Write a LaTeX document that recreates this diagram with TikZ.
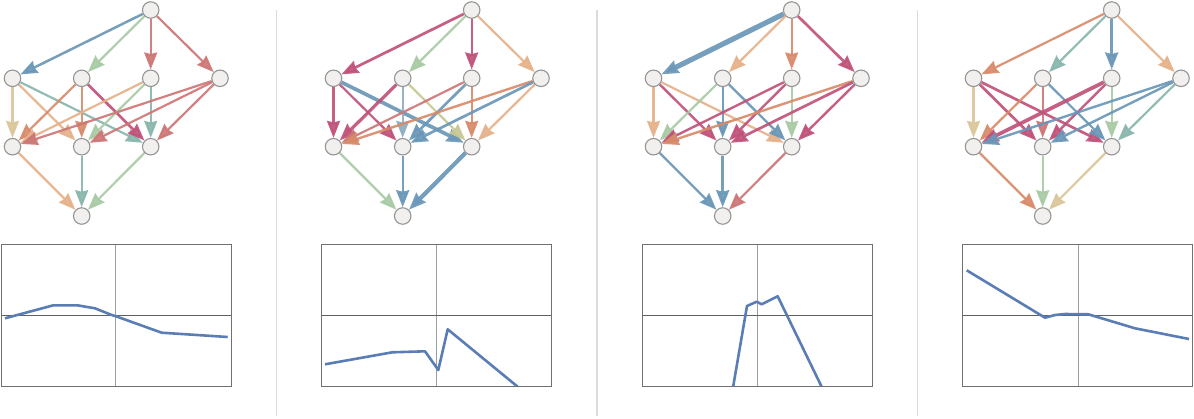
\documentclass[tikz,border=0pt]{standalone}
\usetikzlibrary{arrows.meta}
\definecolor{cBlue}{HTML}{6A97B8}
\definecolor{cGreen}{HTML}{A8CAA4}
\definecolor{cTeal}{HTML}{89B6AC}
\definecolor{cRed}{HTML}{CD7676}
\definecolor{cMag}{HTML}{C0527A}
\definecolor{cOrange}{HTML}{D88B6A}
\definecolor{cPeach}{HTML}{E5B18A}
\definecolor{cTan}{HTML}{DAC69A}
\definecolor{cYG}{HTML}{C7C894}
\definecolor{cLB}{HTML}{8FAEC0}
\definecolor{vgray}{HTML}{959595}
\definecolor{vfill}{HTML}{F2F0EE}
\definecolor{sepc}{HTML}{DADADF}
\definecolor{curvec}{HTML}{5B7DB5}
\definecolor{framec}{HTML}{707070}
\pgfdeclarelayer{bg}
\pgfsetlayers{bg,main}
\newcommand\ed[5]{\draw[edg,color=#4,line width=#5pt] (p#1#2) -- (p#1#3);}
\begin{document}
\begin{tikzpicture}[x=1pt,y=-1pt,
  vtx/.style={circle,draw=vgray,fill=vfill,line width=1.1pt,minimum size=16.5pt,inner sep=0pt},
  edg/.style={-{Stealth[length=17pt 0 0,width=13pt 0 0,inset=1.5pt 0]},opacity=0.92},
  sepline/.style={draw=sepc,line width=1.5pt},
  frm/.style={draw=framec,line width=0.9pt},
  vax/.style={draw=black!38,line width=1.2pt},
  hax/.style={draw=black!62,line width=0.9pt},
  crv/.style={draw=curvec,line width=2.6pt,line join=round}]
\useasboundingbox (0,0) rectangle (1194,418);
\foreach \p/\ox in {1/0,2/321,3/641,4/961}{
  \node[vtx] (p\p T) at (\ox+150.7,10) {};
  \node[vtx] (p\p A1) at (\ox+12.5,78.3) {};
  \node[vtx] (p\p A2) at (\ox+81.7,78.3) {};
  \node[vtx] (p\p A3) at (\ox+150.7,78.3) {};
  \node[vtx] (p\p A4) at (\ox+220,78.3) {};
  \node[vtx] (p\p B1) at (\ox+12.5,146.7) {};
  \node[vtx] (p\p B2) at (\ox+81.7,146.7) {};
  \node[vtx] (p\p B3) at (\ox+150.7,146.7) {};
  \node[vtx] (p\p Z) at (\ox+81.7,216) {};
}
\begin{pgfonlayer}{bg}
% panel 1
\ed1{T}{A1}{cBlue}{2.5}
\ed1{T}{A2}{cGreen}{2.2}
\ed1{T}{A3}{cRed}{2.2}
\ed1{T}{A4}{cRed}{2.2}
\ed1{A1}{B1}{cTan}{2.2}
\ed1{A1}{B2}{cPeach}{2.2}
\ed1{A1}{B3}{cTeal}{2.2}
\ed1{A2}{B1}{cOrange}{2.2}
\ed1{A2}{B2}{cOrange}{2.2}
\ed1{A2}{B3}{cMag}{2.7}
\ed1{A3}{B1}{cPeach}{2.2}
\ed1{A3}{B2}{cGreen}{2.2}
\ed1{A3}{B3}{cTeal}{2.2}
\ed1{A4}{B1}{cRed}{2.2}
\ed1{A4}{B2}{cRed}{2.2}
\ed1{A4}{B3}{cRed}{2.2}
\ed1{B1}{Z}{cPeach}{2.2}
\ed1{B2}{Z}{cTeal}{2.2}
\ed1{B3}{Z}{cGreen}{2.2}
% panel 2
\ed2{T}{A1}{cMag}{2.7}
\ed2{T}{A2}{cGreen}{2.2}
\ed2{T}{A3}{cMag}{2.4}
\ed2{T}{A4}{cPeach}{2.2}
\ed2{A1}{B1}{cMag}{2.4}
\ed2{A1}{B2}{cMag}{2.2}
\ed2{A1}{B3}{cBlue}{3.7}
\ed2{A2}{B1}{cMag}{3.2}
\ed2{A2}{B2}{cLB}{2.2}
\ed2{A2}{B3}{cYG}{2.2}
\ed2{A3}{B1}{cRed}{2.2}
\ed2{A3}{B2}{cBlue}{2.7}
\ed2{A3}{B3}{cOrange}{2.2}
\ed2{A4}{B1}{cOrange}{2.4}
\ed2{A4}{B2}{cBlue}{2.7}
\ed2{A4}{B3}{cPeach}{2.2}
\ed2{B1}{Z}{cGreen}{2.2}
\ed2{B2}{Z}{cBlue}{2.4}
\ed2{B3}{Z}{cBlue}{4.2}
% panel 3
\ed3{T}{A1}{cBlue}{5.2}
\ed3{T}{A2}{cPeach}{2.2}
\ed3{T}{A3}{cOrange}{2.2}
\ed3{T}{A4}{cMag}{2.7}
\ed3{A1}{B1}{cPeach}{2.2}
\ed3{A1}{B2}{cMag}{2.4}
\ed3{A1}{B3}{cPeach}{2.2}
\ed3{A2}{B1}{cGreen}{2.2}
\ed3{A2}{B2}{cBlue}{2.4}
\ed3{A2}{B3}{cBlue}{2.4}
\ed3{A3}{B1}{cMag}{2.4}
\ed3{A3}{B2}{cMag}{2.4}
\ed3{A3}{B3}{cGreen}{2.2}
\ed3{A4}{B1}{cOrange}{2.4}
\ed3{A4}{B2}{cMag}{2.7}
\ed3{A4}{B3}{cMag}{2.4}
\ed3{B1}{Z}{cBlue}{2.4}
\ed3{B2}{Z}{cBlue}{2.7}
\ed3{B3}{Z}{cRed}{2.2}
% panel 4
\ed4{T}{A1}{cOrange}{2.2}
\ed4{T}{A2}{cTeal}{2.2}
\ed4{T}{A3}{cBlue}{2.7}
\ed4{T}{A4}{cPeach}{2.2}
\ed4{A1}{B1}{cTan}{2.2}
\ed4{A1}{B2}{cMag}{2.7}
\ed4{A1}{B3}{cMag}{2.7}
\ed4{A2}{B1}{cOrange}{2.2}
\ed4{A2}{B2}{cRed}{2.2}
\ed4{A2}{B3}{cBlue}{2.2}
\ed4{A3}{B1}{cMag}{3.7}
\ed4{A3}{B2}{cMag}{2.4}
\ed4{A3}{B3}{cGreen}{2.2}
\ed4{A4}{B1}{cBlue}{2.4}
\ed4{A4}{B2}{cBlue}{2.4}
\ed4{A4}{B3}{cTeal}{2.2}
\ed4{B1}{Z}{cOrange}{2.4}
\ed4{B2}{Z}{cGreen}{2.2}
\ed4{B3}{Z}{cTan}{2.2}
\end{pgfonlayer}
% separators
\draw[sepline] (276.3,10) -- (276.3,416);
\draw[sepline] (597,10) -- (597,416);
\draw[sepline] (917.3,10) -- (917.3,416);
% plots
\foreach \x/\v in {1.7/115.7,321.7/436.7,642.3/757.7,962.3/1078.3}{
  \draw[vax] (\v,244.3) -- (\v,386);
  \draw[hax] (\x,315.3) -- (\x+230,315.3);
}
\begin{scope}
\clip (1.7,244.3) rectangle (231.7,386);
\draw[crv] (5,318.3) -- (53.3,305.3) -- (77.3,305.3) -- (95,308.3) -- (111.7,315) -- (116,316.3) -- (161.7,332.7) -- (227.7,337);
\end{scope}
\begin{scope}
\clip (321.7,244.3) rectangle (551.7,386);
\draw[crv] (325,364.3) -- (392.3,352.3) -- (425,351.3) -- (438.3,370) -- (447.7,329.3) -- (518,387);
\end{scope}
\begin{scope}
\clip (642.3,244.3) rectangle (872.3,386);
\draw[crv] (733,387.5) -- (747,306) -- (756.7,301.7) -- (761.7,304.3) -- (777.7,296.3) -- (822,387.5);
\end{scope}
\begin{scope}
\clip (962.3,244.3) rectangle (1192.3,386);
\draw[crv] (966.7,270.3) -- (1045,317.7) -- (1055,315) -- (1065,314) -- (1088.3,314.3) -- (1135,328.3) -- (1189,339);
\end{scope}
\foreach \x in {1.7,321.7,642.3,962.3}{
  \draw[frm] (\x,244.3) rectangle (\x+230,386);
}
\end{tikzpicture}
\end{document}
